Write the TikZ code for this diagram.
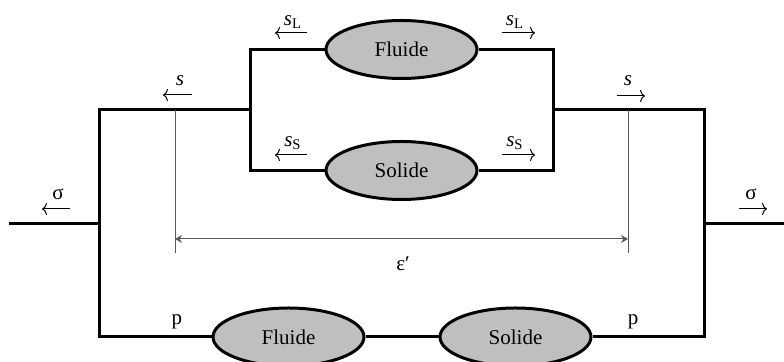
\documentclass[tikz,border=0pt]{standalone}
\usepackage{fontspec}
\setmainfont{Liberation Serif}
\usetikzlibrary{shapes.geometric,arrows.meta}
\newcommand{\sub}[2]{\textit{#1}\textsubscript{#2}}
\begin{document}
\begin{tikzpicture}[x=0.5pt,y=-0.5pt,
  wire/.style={line width=1.5pt},
  elem/.style={ellipse,draw,line width=1.5pt,fill=black!25,minimum width=75.5pt,minimum height=29pt,inner sep=0pt,font=\fontsize{10.5}{12}\selectfont},
  dim/.style={draw=black!65,line width=0.5pt},
  lbl/.style={font=\fontsize{10.5}{12}\selectfont,inner sep=0pt},
  flow/.style={line width=0.5pt,-{To[length=2.5pt,width=6pt]}},
  dimarrow/.style={dim,{Stealth[length=3.5pt,width=4pt]}-{Stealth[length=3.5pt,width=4pt]}}
]
\useasboundingbox (0,0) rectangle (784,362);
\clip (0,0) rectangle (784,362);
% elements
\node[elem] (tf) at (401.5,49.5) {Fluide};
\node[elem] (ts) at (401.5,170.5) {Solide};
\node[elem] (bf) at (288.5,337) {Fluide};
\node[elem] (bs) at (515.5,337) {Solide};
% corner coordinates
\coordinate (inL) at (9,224);
\coordinate (outR) at (784,224);
\coordinate (oL) at (99,224);
\coordinate (oR) at (704,224);
\coordinate (oLT) at (99,110);
\coordinate (oLB) at (99,337);
\coordinate (oRT) at (704,110);
\coordinate (oRB) at (704,337);
\coordinate (iL) at (250,110);
\coordinate (iR) at (553,110);
\coordinate (iLT) at (250,49.5);
\coordinate (iLB) at (250,170.5);
\coordinate (iRT) at (553,49.5);
\coordinate (iRB) at (553,170.5);
% wires
\draw[wire] (inL) -- (oL);
\draw[wire] (oR) -- (outR);
\draw[wire] (iL) -- (oLT) -- (oLB) -- (bf.west);
\draw[wire] (bf.east) -- (bs.west);
\draw[wire] (bs.east) -- (oRB) -- (oRT) -- (iR);
\draw[wire] (tf.west) -- (iLT) -- (iLB) -- (ts.west);
\draw[wire] (tf.east) -- (iRT) -- (iRB) -- (ts.east);
% dimension
\coordinate (dLt) at (175,110);
\coordinate (dLb) at (175,253);
\coordinate (dRt) at (628,110);
\coordinate (dRb) at (628,253);
\coordinate (dLa) at (175,239);
\coordinate (dRa) at (628,239);
\draw[dim] (dLt) -- (dLb);
\draw[dim] (dRt) -- (dRb);
\draw[dimarrow] (dLa) -- (dRa);
\node[lbl] (eps) at (403,264) {ε′};
% flow arrows and labels
\coordinate (a1s) at (307,33); \coordinate (a1e) at (275,33);
\coordinate (a2s) at (502,33); \coordinate (a2e) at (535,33);
\coordinate (a3s) at (307,155); \coordinate (a3e) at (275,155);
\coordinate (a4s) at (502,155); \coordinate (a4e) at (535,155);
\coordinate (a5s) at (192,95); \coordinate (a5e) at (163,95);
\coordinate (a6s) at (617,96); \coordinate (a6e) at (645,96);
\coordinate (a7s) at (70,209); \coordinate (a7e) at (42,209);
\coordinate (a8s) at (739,209); \coordinate (a8e) at (767,209);
\draw[flow] (a1s) -- (a1e);
\draw[flow] (a2s) -- (a2e);
\draw[flow] (a3s) -- (a3e);
\draw[flow] (a4s) -- (a4e);
\draw[flow] (a5s) -- (a5e);
\draw[flow] (a6s) -- (a6e);
\draw[flow] (a7s) -- (a7e);
\draw[flow] (a8s) -- (a8e);
\node[lbl] (l1) at (293,22) {\sub{s}{L}};
\node[lbl] (l2) at (515,22) {\sub{s}{L}};
\node[lbl] (l3) at (293,143) {\sub{s}{S}};
\node[lbl] (l4) at (515,143) {\sub{s}{S}};
\node[lbl] (l5) at (180,81) {\textit{s}};
\node[lbl] (l6) at (628,81) {\textit{s}};
\node[lbl] (l7) at (58,194) {σ};
\node[lbl] (l8) at (751,194) {σ};
\node[lbl] (p1) at (177,322) {p};
\node[lbl] (p2) at (633,322) {p};
\end{tikzpicture}
\end{document}
